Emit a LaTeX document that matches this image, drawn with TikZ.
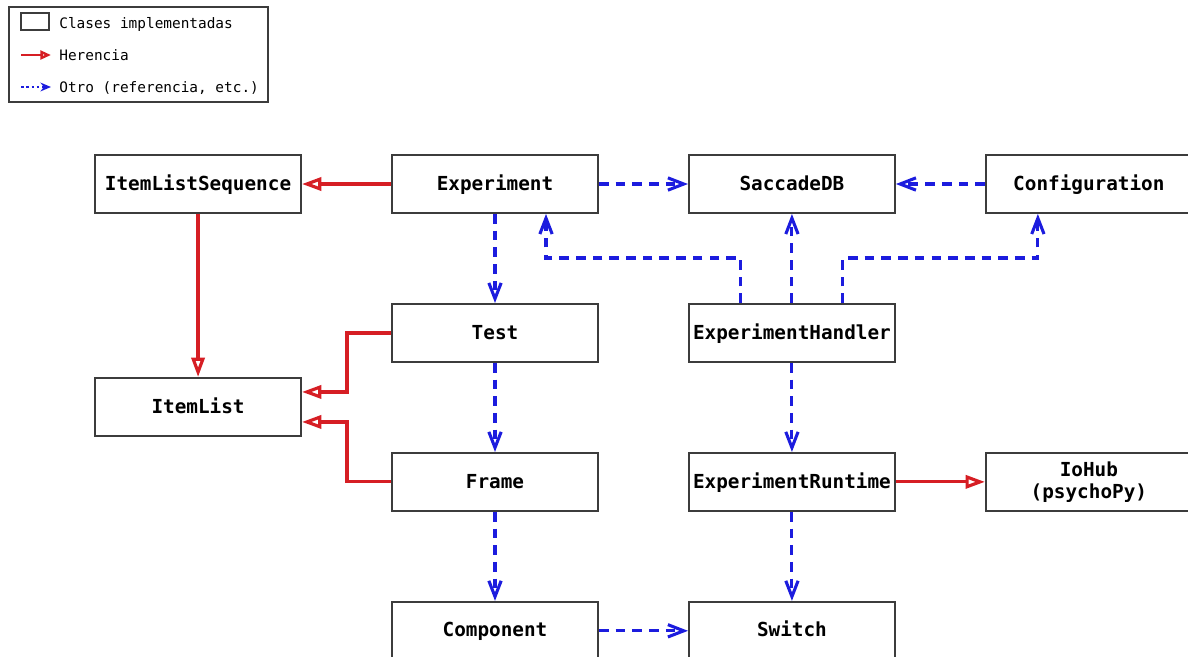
\documentclass[tikz,border=0pt]{standalone}
\usepackage{fontspec}
\setmonofont{DejaVu Sans Mono}
\usetikzlibrary{arrows.meta,positioning,calc}

\definecolor{herred}{RGB}{214,30,36}
\definecolor{otroblue}{RGB}{28,28,222}
\definecolor{boxgray}{RGB}{60,60,60}

\begin{document}
\begin{tikzpicture}[
    node distance=1.78cm and 1.78cm,
    cls/.style={rectangle, draw=boxgray, line width=1.1pt, minimum width=4.12cm, minimum height=1.16cm, align=center, inner sep=1pt, text height=9pt, text depth=2pt, font=\ttfamily\bfseries\fontsize{11}{12.5}\selectfont},
    legtext/.style={anchor=west, inner sep=0pt, text height=7.5pt, text depth=1.5pt, font=\ttfamily\fontsize{8.2}{9}\selectfont},
    inherit/.style={draw=herred, line width=1.8pt, -{Triangle[open, length=11pt, width=7.5pt, fill=white]}},
    other/.style={draw=otroblue, line width=1.75pt, dash pattern=on 5.5pt off 4pt, -{Straight Barb[length=9pt, width=7pt]}}
]
\useasboundingbox (0,0) rectangle (23.76,-13.12);

% Legend
\draw[boxgray, line width=1pt] (0.18,-0.14) rectangle (5.36,-2.04);
\node[draw=boxgray, line width=1pt, minimum width=0.56cm, minimum height=0.34cm, inner sep=0pt] (legcls) at (0.7,-0.43) {};
\node[legtext] (legclstxt) at (1.18,-0.46) {Clases implementadas};
\coordinate (legherA) at (0.42,-1.1);
\coordinate (legherB) at (1.02,-1.1);
\node[legtext] (legher) at (1.18,-1.1) {Herencia};
\coordinate (legotrA) at (0.42,-1.74);
\coordinate (legotrB) at (1.02,-1.74);
\node[legtext] (legotr) at (1.18,-1.74) {Otro (referencia, etc.)};
\draw[draw=herred, line width=1.4pt, -{Triangle[open, length=6pt, width=5pt, fill=white]}] (legherA) -- (legherB);
\draw[draw=otroblue, line width=1.4pt, dash pattern=on 1.5pt off 1.5pt, -{Stealth[length=6pt, width=5pt]}] (legotrA) -- (legotrB);

% Classes
\node[cls] (experiment) at (9.9,-3.68) {Experiment};
\node[cls, left=of experiment] (itemlistseq) {ItemListSequence};
\node[cls, right=of experiment] (saccadedb) {SaccadeDB};
\node[cls, right=of saccadedb] (configuration) {Configuration};
\node[cls, below=of experiment] (test) {Test};
\node[cls, right=of test] (handler) {ExperimentHandler};
\node[cls, below=3.26cm of itemlistseq] (itemlist) {ItemList};
\node[cls, below=of test] (frame) {Frame};
\node[cls, right=of frame] (runtime) {ExperimentRuntime};
\node[cls, right=of runtime, text height={}, text depth={}] (iohub) {IoHub\\(psychoPy)};
\node[cls, below=of frame] (component) {Component};
\node[cls, right=of component] (switch) {Switch};

% Inheritance
\draw[inherit] (experiment) -- (itemlistseq);
\draw[inherit] (itemlistseq) -- (itemlist);
\draw[inherit] (test.west) -- ++(-0.88,0) |- ([yshift=0.3cm]itemlist.east);
\draw[inherit] (frame.west) -- ++(-0.88,0) |- ([yshift=-0.3cm]itemlist.east);
\draw[inherit] (runtime) -- (iohub);

% Other relations
\draw[other] (experiment) -- (saccadedb);
\draw[other] (configuration) -- (saccadedb);
\draw[other] (experiment) -- (test);
\draw[other] (test) -- (frame);
\draw[other] (frame) -- (component);
\draw[other] (component) -- (switch);
\draw[other] (handler) -- (saccadedb);
\draw[other] (handler) -- (runtime);
\draw[other] (runtime) -- (switch);
\draw[other] ([xshift=-1.02cm]handler.north) -- ++(0,0.9) -| ([xshift=1.02cm]experiment.south);
\draw[other] ([xshift=1.02cm]handler.north) -- ++(0,0.9) -| ([xshift=-1.02cm]configuration.south);

\end{tikzpicture}
\end{document}
